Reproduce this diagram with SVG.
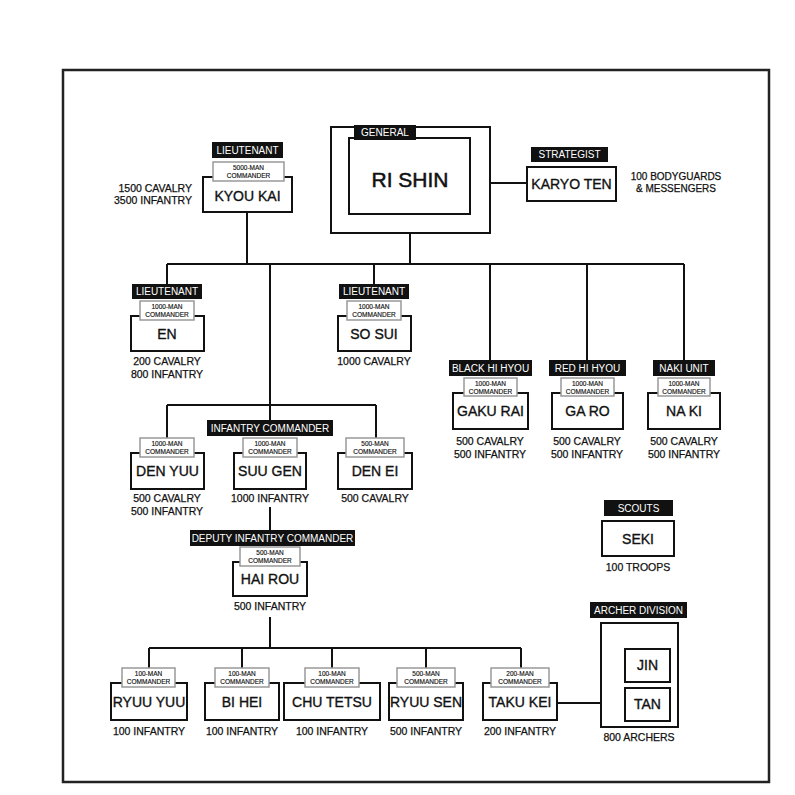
<svg xmlns="http://www.w3.org/2000/svg" width="795" height="795" viewBox="0 0 795 795">
<style>
text{font-family:"Liberation Sans","DejaVu Sans",sans-serif;fill:#111}
.frame{fill:#fff;stroke:#222;stroke-width:2.5}
.box{fill:#fff;stroke:#111;stroke-width:2}
.tag{fill:#111}
.tagt{fill:#fff;font-size:10px;text-anchor:middle}
.cmd{fill:#fff;stroke:#999;stroke-width:1.5}
.cmdt{font-size:6.5px;text-anchor:middle;stroke:#111;stroke-width:0.15}
.name{font-size:14px;text-anchor:middle;stroke:#111;stroke-width:0.35}
.stat{font-size:10.5px;text-anchor:middle;stroke:#111;stroke-width:0.25}
.ln{stroke:#111;stroke-width:2;fill:none}
</style>
<rect x="0" y="0" width="795" height="795" fill="#fff"/>
<rect class="frame" x="63" y="70" width="706" height="712"/>
<g id="connectors">
<path class="ln" d="M410 233V264M167 264H684M247 212V264M167 264V284M374 264V284M490 264V360M587 264V360M684 264V360M270 264V405"/>
<path class="ln" d="M167 405H376M167 405V438M270 405V420M376 405V438"/>
<path class="ln" d="M270 507V530M270 617V648M149 648H521M149 648V668M242 648V668M332 648V668M426 648V668M521 648V668"/>
<path class="ln" d="M557 703H601M470 183H527"/>
</g>
<g id="general">
<rect class="box" x="331" y="127" width="159" height="106"/>
<rect class="box" x="349" y="138" width="121" height="76"/>
<rect class="tag" x="354" y="125" width="62" height="15"/>
<text class="tagt" x="385" y="136">GENERAL</text>
<text class="name" x="410" y="187" style="font-size:21px;stroke-width:0.5">RI SHIN</text>
</g>
<g id="karyo-ten">
<rect class="tag" x="531" y="147" width="77" height="15"/>
<text class="tagt" x="569.5" y="158">STRATEGIST</text>
<rect class="box" x="527" y="167" width="89" height="34"/>
<text class="name" x="571.5" y="189">KARYO TEN</text>
<text class="stat" x="676" y="180" style="font-size:10px">100 BODYGUARDS</text>
<text class="stat" x="676" y="192" style="font-size:10px">&amp; MESSENGERS</text>
</g>
<g id="kyou-kai">
<rect class="tag" x="212" y="142" width="71" height="16"/>
<text class="tagt" x="247.5" y="154">LIEUTENANT</text>
<rect class="box" x="203" y="177" width="89" height="35"/>
<rect class="cmd" x="213" y="162" width="71" height="19"/>
<text class="cmdt" x="248.5" y="170">5000-MAN</text>
<text class="cmdt" x="248.5" y="178">COMMANDER</text>
<text class="name" x="247.5" y="201">KYOU KAI</text>
<text class="stat" x="192" y="192" style="text-anchor:end">1500 CAVALRY</text>
<text class="stat" x="192" y="204" style="text-anchor:end">3500 INFANTRY</text>
</g>
<g id="en">
<rect class="tag" x="132" y="284" width="70" height="15"/>
<text class="tagt" x="167" y="295">LIEUTENANT</text>
<rect class="box" x="131" y="316" width="73" height="35"/>
<rect class="cmd" x="140" y="301" width="54" height="19"/>
<text class="cmdt" x="167" y="309">1000-MAN</text>
<text class="cmdt" x="167" y="317">COMMANDER</text>
<text class="name" x="167" y="339">EN</text>
<text class="stat" x="167" y="365">200 CAVALRY</text>
<text class="stat" x="167" y="378">800 INFANTRY</text>
</g>
<g id="so-sui">
<rect class="tag" x="339" y="284" width="70" height="15"/>
<text class="tagt" x="374" y="295">LIEUTENANT</text>
<rect class="box" x="338" y="316" width="73" height="35"/>
<rect class="cmd" x="347" y="301" width="54" height="19"/>
<text class="cmdt" x="374" y="309">1000-MAN</text>
<text class="cmdt" x="374" y="317">COMMANDER</text>
<text class="name" x="374" y="339">SO SUI</text>
<text class="stat" x="374" y="365">1000 CAVALRY</text>
</g>
<g id="gaku-rai">
<rect class="tag" x="449" y="360" width="83" height="16"/>
<text class="tagt" x="490.5" y="372">BLACK HI HYOU</text>
<rect class="box" x="453" y="393" width="75" height="36"/>
<rect class="cmd" x="464" y="378" width="53" height="18"/>
<text class="cmdt" x="490.5" y="386">1000-MAN</text>
<text class="cmdt" x="490.5" y="393.5">COMMANDER</text>
<text class="name" x="490.5" y="416">GAKU RAI</text>
<text class="stat" x="490" y="445">500 CAVALRY</text>
<text class="stat" x="490" y="458">500 INFANTRY</text>
</g>
<g id="ga-ro">
<rect class="tag" x="549" y="360" width="77" height="16"/>
<text class="tagt" x="587.5" y="372">RED HI HYOU</text>
<rect class="box" x="552" y="393" width="71" height="36"/>
<rect class="cmd" x="561" y="378" width="53" height="18"/>
<text class="cmdt" x="587.5" y="386">1000-MAN</text>
<text class="cmdt" x="587.5" y="393.5">COMMANDER</text>
<text class="name" x="587.5" y="416">GA RO</text>
<text class="stat" x="587" y="445">500 CAVALRY</text>
<text class="stat" x="587" y="458">500 INFANTRY</text>
</g>
<g id="na-ki">
<rect class="tag" x="653" y="360" width="62" height="16"/>
<text class="tagt" x="684" y="372">NAKI UNIT</text>
<rect class="box" x="648" y="393" width="72" height="36"/>
<rect class="cmd" x="658" y="378" width="52" height="18"/>
<text class="cmdt" x="684" y="386">1000-MAN</text>
<text class="cmdt" x="684" y="393.5">COMMANDER</text>
<text class="name" x="684" y="416">NA KI</text>
<text class="stat" x="684" y="445">500 CAVALRY</text>
<text class="stat" x="684" y="458">500 INFANTRY</text>
</g>
<g id="den-yuu">
<rect class="box" x="131" y="453" width="73" height="36"/>
<rect class="cmd" x="140" y="438" width="54" height="19"/>
<text class="cmdt" x="167" y="446">1000-MAN</text>
<text class="cmdt" x="167" y="454">COMMANDER</text>
<text class="name" x="167.5" y="476">DEN YUU</text>
<text class="stat" x="167" y="502">500 CAVALRY</text>
<text class="stat" x="167" y="515">500 INFANTRY</text>
</g>
<g id="suu-gen">
<rect class="tag" x="207" y="420" width="126" height="16"/>
<text class="tagt" x="270" y="432">INFANTRY COMMANDER</text>
<rect class="box" x="234" y="453" width="72" height="36"/>
<rect class="cmd" x="243" y="438" width="54" height="19"/>
<text class="cmdt" x="270" y="446">1000-MAN</text>
<text class="cmdt" x="270" y="454">COMMANDER</text>
<text class="name" x="270" y="476">SUU GEN</text>
<text class="stat" x="270" y="502">1000 INFANTRY</text>
</g>
<g id="den-ei">
<rect class="box" x="338" y="453" width="74" height="36"/>
<rect class="cmd" x="346" y="438" width="58" height="19"/>
<text class="cmdt" x="375" y="446">500-MAN</text>
<text class="cmdt" x="375" y="454">COMMANDER</text>
<text class="name" x="375" y="476">DEN EI</text>
<text class="stat" x="375" y="502">500 CAVALRY</text>
</g>
<g id="hai-rou">
<rect class="tag" x="190" y="530" width="165" height="16"/>
<text class="tagt" x="272.5" y="542">DEPUTY INFANTRY COMMANDER</text>
<rect class="box" x="233" y="562" width="74" height="34"/>
<rect class="cmd" x="240" y="547" width="60" height="19"/>
<text class="cmdt" x="270" y="555">500-MAN</text>
<text class="cmdt" x="270" y="563">COMMANDER</text>
<text class="name" x="270" y="584">HAI ROU</text>
<text class="stat" x="270" y="610">500 INFANTRY</text>
</g>
<g id="seki">
<rect class="tag" x="604" y="500" width="69" height="16"/>
<text class="tagt" x="638.5" y="512">SCOUTS</text>
<rect class="box" x="602" y="521" width="72" height="35"/>
<text class="name" x="638" y="544">SEKI</text>
<text class="stat" x="638" y="571">100 TROOPS</text>
</g>
<g id="ryuu-yuu">
<rect class="box" x="111" y="683" width="76" height="37"/>
<rect class="cmd" x="122" y="668" width="53" height="19"/>
<text class="cmdt" x="148.5" y="676">100-MAN</text>
<text class="cmdt" x="148.5" y="684">COMMANDER</text>
<text class="name" x="149" y="707">RYUU YUU</text>
<text class="stat" x="149" y="735">100 INFANTRY</text>
</g>
<g id="bi-hei">
<rect class="box" x="205" y="683" width="74" height="37"/>
<rect class="cmd" x="215" y="668" width="54" height="19"/>
<text class="cmdt" x="242" y="676">100-MAN</text>
<text class="cmdt" x="242" y="684">COMMANDER</text>
<text class="name" x="242" y="707">BI HEI</text>
<text class="stat" x="242" y="735">100 INFANTRY</text>
</g>
<g id="chu-tetsu">
<rect class="box" x="284" y="683" width="96" height="37"/>
<rect class="cmd" x="305" y="668" width="54" height="19"/>
<text class="cmdt" x="332" y="676">100-MAN</text>
<text class="cmdt" x="332" y="684">COMMANDER</text>
<text class="name" x="332" y="707">CHU TETSU</text>
<text class="stat" x="332" y="735">100 INFANTRY</text>
</g>
<g id="ryuu-sen">
<rect class="box" x="389" y="683" width="74" height="37"/>
<rect class="cmd" x="397" y="668" width="58" height="19"/>
<text class="cmdt" x="426" y="676">500-MAN</text>
<text class="cmdt" x="426" y="684">COMMANDER</text>
<text class="name" x="426" y="707">RYUU SEN</text>
<text class="stat" x="426" y="735">500 INFANTRY</text>
</g>
<g id="taku-kei">
<rect class="box" x="483" y="683" width="74" height="37"/>
<rect class="cmd" x="491" y="668" width="58" height="19"/>
<text class="cmdt" x="520" y="676">200-MAN</text>
<text class="cmdt" x="520" y="684">COMMANDER</text>
<text class="name" x="520" y="707">TAKU KEI</text>
<text class="stat" x="520" y="735">200 INFANTRY</text>
</g>
<g id="archer-division">
<rect class="tag" x="590" y="602" width="97" height="16"/>
<text class="tagt" x="638.5" y="614">ARCHER DIVISION</text>
<rect class="box" x="601" y="623" width="77" height="104"/>
<rect class="box" x="625" y="649" width="45" height="33"/>
<text class="name" x="647.5" y="670">JIN</text>
<rect class="box" x="625" y="688" width="45" height="33"/>
<text class="name" x="647.5" y="709">TAN</text>
<text class="stat" x="639" y="741">800 ARCHERS</text>
</g>
</svg>
